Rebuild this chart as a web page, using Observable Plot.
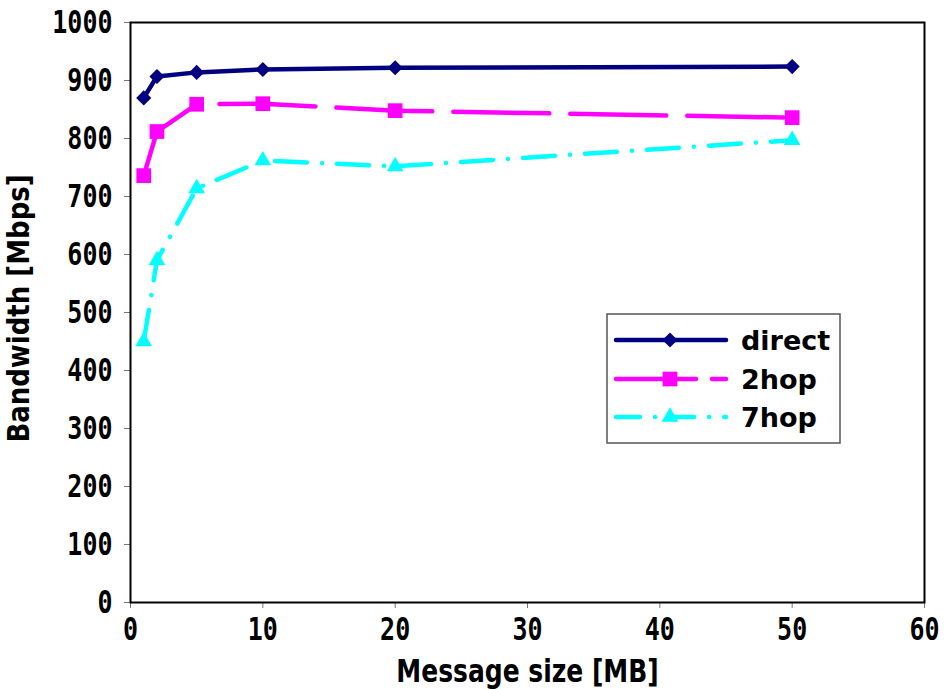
<!DOCTYPE html>
<html><head><meta charset="utf-8">
<script src="https://cdn.jsdelivr.net/npm/d3@7"></script>
<script src="https://cdn.jsdelivr.net/npm/@observablehq/plot@0.6"></script>
<style>
body{margin:0;background:#fff;}
#wrap{position:relative;width:944px;height:689px;}
#legend{position:absolute;left:606px;top:313px;}
#wrap svg g[aria-label="x-axis tick"] path, #wrap svg g[aria-label="y-axis tick"] path{stroke:#777;}
</style></head><body><div id="wrap"></div>
<script>
const sizes = [1, 2, 5, 10, 20, 50];
const direct = [870, 907, 914, 919, 922, 924];
const hop2 = [736, 812, 859, 860, 848, 836];
const hop7 = [450, 590, 714, 762, 752, 797];
const seriesNames = ["direct", "2hop", "7hop"];
const xTicks = [0, 10, 20, 30, 40, 50, 60];
const yTicks = [0, 100, 200, 300, 400, 500, 600, 700, 800, 900, 1000];
const xLabel = "Message size [MB]";
const yLabel = "Bandwidth [Mbps]";

const colors = {"direct": "#000080", "2hop": "#FF00FF", "7hop": "#00FFFF"};
const dashes = {"direct": null, "2hop": "96,21", "7hop": "32,15,0.1,15"};
const symbols = {"direct": "diamond2", "2hop": "square", "7hop": "triangle"};
const radii = {"direct": 6.8, "2hop": 8.3, "7hop": 6.2};
const d3Symbols = {"diamond2": d3.symbolDiamond2, "square": d3.symbolSquare, "triangle": d3.symbolTriangle};

const valuesBySeries = {"direct": direct, "2hop": hop2, "7hop": hop7};
const table = [];
for (const s of seriesNames) sizes.forEach((x, i) => table.push({series: s, x, y: valuesBySeries[s][i]}));

const marks = [];
for (const s of seriesNames) {
  const d = table.filter(r => r.series === s);
  marks.push(Plot.line(d, {x: "x", y: "y", stroke: colors[s], strokeWidth: 4.5, strokeDasharray: dashes[s] || undefined, strokeLinecap: "round", strokeLinejoin: "round"}));
}
for (const s of seriesNames) {
  const d = table.filter(r => r.series === s);
  marks.push(Plot.dot(d, {x: "x", y: "y", symbol: () => symbols[s], r: radii[s], fill: colors[s], stroke: "none"}));
}
marks.push(Plot.frame({stroke: "black", strokeWidth: 2}));
marks.push(Plot.text([xLabel], {frameAnchor: "bottom", dy: 69, lineAnchor: "middle", textAnchor: "middle", text: d => d, fontFamily: "DejaVu Sans", fontWeight: "bold", fontSize: 25, fill: "black"}));
marks.push(Plot.text([yLabel], {frameAnchor: "left", dx: -111, dy: -4, rotate: -90, lineAnchor: "middle", textAnchor: "middle", text: d => d, fontFamily: "DejaVu Sans", fontWeight: "bold", fontSize: 26, fill: "black"}));

const chart = Plot.plot({
  width: 944, height: 689,
  marginLeft: 130, marginRight: 20, marginTop: 22, marginBottom: 87,
  x: {domain: [0, 60], ticks: xTicks, tickFormat: d => String(d), tickSize: 6, tickPadding: 9, label: null},
  y: {domain: [0, 1000], ticks: yTicks, tickFormat: d => String(d), tickSize: 6, tickPadding: 12, label: null},
  style: {fontFamily: "DejaVu Sans Mono", fontWeight: "bold", fontSize: "25px", background: "white", color: "black"},
  marks
});
document.getElementById("wrap").appendChild(chart);

// stretch text vertically like the reference
d3.select(chart).selectAll("text").each(function() {
  const k = this.getAttribute("transform") && this.getAttribute("transform").includes("rotate") ? 1.15 : 1.25;
  const t = this.getAttribute("transform");
  if (t) this.setAttribute("transform", t + ` scale(1,${k})`);
  else {
    const x = parseFloat(this.getAttribute("x")) || 0, y = parseFloat(this.getAttribute("y")) || 0;
    this.removeAttribute("x"); this.removeAttribute("y");
    this.setAttribute("transform", `translate(${x},${y}) scale(1,${k})`);
  }
});

// legend
const lg = d3.select("#wrap").append("svg").attr("id", "legend").attr("width", 236).attr("height", 132);
lg.append("rect").attr("x", 1).attr("y", 1).attr("width", 233).attr("height", 129).attr("fill", "white").attr("stroke", "#555").attr("stroke-width", 1.5);
const rowY = [27, 66, 104];
seriesNames.forEach((s, i) => {
  const y = rowY[i];
  lg.append("line").attr("x1", 10).attr("x2", 120).attr("y1", y).attr("y2", y)
    .attr("stroke", colors[s]).attr("stroke-width", 4.5).attr("stroke-linecap", "round")
    .attr("stroke-dasharray", s === "2hop" ? "80,16" : s === "7hop" ? "24,15,0.1,15" : null);
  lg.append("path").attr("d", d3.symbol(d3Symbols[symbols[s]], Math.PI * radii[s] * radii[s])())
    .attr("transform", `translate(64,${y})`).attr("fill", colors[s]);
  lg.append("text").attr("x", 135).attr("y", y).attr("dy", "0.36em").text(s)
    .attr("font-family", "DejaVu Sans").attr("font-weight", "bold").attr("font-size", 27).attr("fill", "black");
});
</script></body></html>
